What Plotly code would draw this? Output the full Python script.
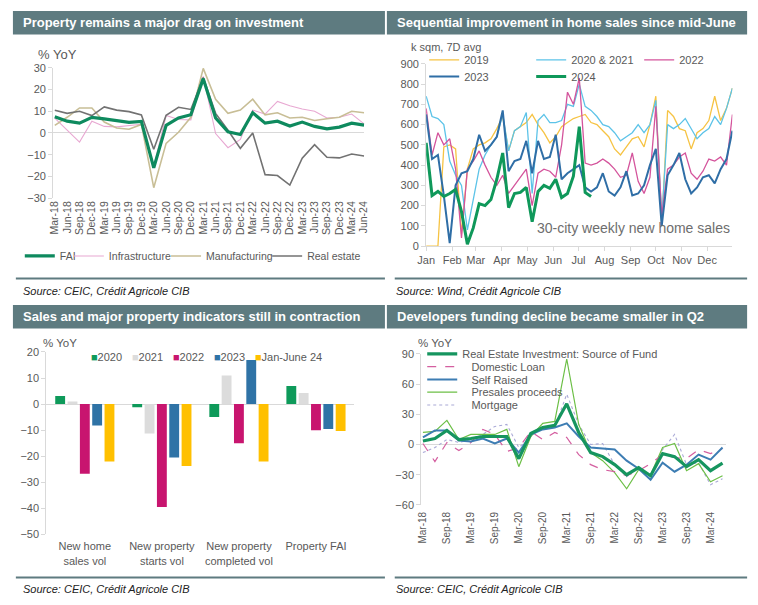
import plotly.graph_objects as go
import pandas as pd

W, H = 758, 605
FONT = "Liberation Sans, Arial, sans-serif"
GRAY = "#595959"
AXIS = "#D9D9D9"
HEAD = "#5E7B80"

# ---------------- Panel 1 data ----------------
quarters = ["Mar-18", "Jun-18", "Sep-18", "Dec-18", "Mar-19", "Jun-19", "Sep-19", "Dec-19",
            "Mar-20", "Jun-20", "Sep-20", "Dec-20", "Mar-21", "Jun-21", "Sep-21", "Dec-21",
            "Mar-22", "Jun-22", "Sep-22", "Dec-22", "Mar-23", "Jun-23", "Sep-23", "Dec-23",
            "Mar-24", "Jun-24"]
fai = [7.5, 5.4, 4.5, 7.2, 6.5, 5.6, 4.9, 5.3, -16.1, 3.5, 6.9, 8.4, 25.0, 6.9, 0.5, -0.7,
       9.3, 4.5, 5.4, 3.2, 5.0, 3.0, 1.9, 2.7, 4.5, 3.6]
infra = [6.8, 1.2, -4.2, 5.4, 3.0, 2.8, 3.5, 4.0, -15.5, 8.0, 6.2, 6.0, 26.0, -0.3, -6.8, -3.0,
         10.5, 8.7, 14.5, 12.5, 11.0, 10.0, 6.9, 7.2, 8.7, 4.2]
manuf = [3.5, 7.2, 11.5, 11.5, 5.0, 2.3, 1.7, 3.9, -25.2, -4.8, 0.3, 7.2, 29.7, 15.5, 9.0, 10.5,
         15.5, 8.3, 9.3, 6.9, 7.2, 5.7, 6.5, 7.2, 10.0, 9.3]
realest = [10.4, 9.0, 10.0, 8.0, 12.0, 10.5, 9.8, 8.3, -7.5, 8.1, 11.8, 10.8, 25.5, 9.0, 1.2, -7.1,
           0.0, -19.2, -19.6, -24.0, -11.6, -5.4, -11.2, -11.5, -9.7, -10.6]

# ---------------- Panel 2 data (weekly readings, k sqm 7D avg) ----------------
weeks = pd.date_range("2019-01-01", periods=53, freq="7D")
s2019 = [0, 0, 0, 490, 500, 480, 60, 380, 480, 500, 510, 530, 580, 640, 470, 570, 590, 610,
         650, 600, 560, 510, 540, 590, 610, 630, 640, 650, 610, 600, 570, 540, 480, 450, 490,
         530, 540, 490, 600, 740, 100, 670, 640, 580, 570, 480, 560, 580, 620, 740, 620, 680, 780]
s2020_21 = [740, 640, 630, 600, 420, 350, 300, 80, 230, 380, 450, 500, 540, 650, 470, 570, 590,
            660, 260, 620, 650, 610, 610, 620, 700, 690, 800, 690, 670, 640, 600, 590, 560, 520,
            540, 560, 600, 560, 600, 720, 130, 600, 580, 600, 630, 580, 530, 560, 580, 640, 600,
            680, 780]
s2022 = [680, 450, 560, 500, 530, 380, 40, 380, 420, 470, 400, 340, 300, 350, 260, 300, 340, 380,
         200, 360, 380, 370, 340, 500, 760, 700, 830, 410, 400, 410, 430, 410, 380, 340, 350, 460,
         320, 260, 340, 690, 150, 380, 400, 440, 460, 360, 330, 370, 430, 420, 440, 400, 650]
s2023 = [650, 430, 450, 250, 15, 300, 360, 370, 430, 550, 470, 500, 540, 670, 370, 420, 430, 520,
         360, 520, 430, 440, 550, 330, 360, 380, 400, 290, 270, 290, 360, 270, 250, 290, 370, 250,
         260, 300, 400, 480, 100, 350, 400, 460, 330, 260, 290, 340, 350, 310, 380, 430, 570]
s2024 = [510, 250, 270, 245, 260, 280, 170, 10, 90, 210, 200, 230, 330, 460, 190, 260, 265, 290,
         120, 270, 300, 285, 330, 240, 260, 345, 590, 265, 245]

# ---------------- Panel 3 data ----------------
indicators = ["New home<br>sales vol", "New property<br>starts vol",
              "New property<br>completed vol", "Property FAI"]
bar_years = ["2020", "2021", "2022", "2023", "Jan-June 24"]
bars_2020 = [3.1, -1.2, -5.0, 6.9]
bars_2021 = [1.0, -11.3, 11.0, 4.3]
bars_2022 = [-26.7, -39.5, -15.0, -10.0]
bars_2023 = [-8.2, -20.5, 16.9, -9.6]
bars_2024 = [-22.0, -23.8, -22.0, -10.3]

# ---------------- Panel 4 data ----------------
rei_fund = [3.5, 6, 14, 5, 6, 8, 8, 8, -14, 11, 17, 19, 40.5, 12, -8, -12, -20, -30, -23, -31,
            -9, -12, -22, -15, -26, -18.5]
domestic_loan = [1, -17, 2, -6, 2, 15, 10, -7, -3, 13, 5, 12, 7, -10, -20, -25, -27, -31, -26,
                 -19, -10, -13, -14, -5, -9, -4]
self_raised = [7, 14, 14, 4, 3, 6, 1, 6, -8, 10, 15, 17, 21, 8, -3, -4, -5, -16, -24, -35, -18,
               -27, -20, -10, -15, -3]
presales = [12, 13, 24, 5, 10, 10, 10, 15, -22, 8, 21, 23, 85, 20, -8, -16, -28, -44, -25, -30,
            -3, 1, -26, -19, -37, -31]
mortgage = [-8, -3, 5, 2, 5, 10, 18, 20, -3, 8, 18, 17, 50, 20, 0, 1, -20, -32, -22, -32, -5, 10,
            -20, -18, -40, -34]


def xp(px):
    return px / W


def yp(py):
    return 1 - py / H


fig = go.Figure()

# ---- Panel 1 traces (one legend per entry, laid out in a row) ----
p1 = [("Infrastructure", infra, "#E8A8D2", 1.1, "legend10"),
      ("Manufacturing", manuf, "#C8BE96", 1.6, "legend11"),
      ("Real estate", realest, "#727272", 1.6, "legend12"),
      ("FAI", fai, "#0E8A5E", 3.2, "legend")]
for name, vals, col, wd, lg in p1:
    fig.add_trace(go.Scatter(x=quarters, y=vals, name=name, mode="lines",
                             line=dict(color=col, width=wd), xaxis="x", yaxis="y", legend=lg))

# ---- Panel 2 traces ----
p2 = [("2019", s2019, "#F6C343", 1.3, "legend2", 62),
      ("2020 & 2021", s2020_21, "#5CC3E8", 1.3, "legend2", 63),
      ("2022", s2022, "#D4549C", 1.3, "legend2", 40),
      ("2023", s2023, "#2F6EA6", 2.0, "legend3", 62),
      ("2024", s2024, "#0F985A", 3.0, "legend3", 40)]
for name, vals, col, wd, lg, lw in p2:
    fig.add_trace(go.Scatter(x=weeks[:len(vals)], y=vals, name=name, mode="lines",
                             line=dict(color=col, width=wd), xaxis="x2", yaxis="y2",
                             legend=lg, legendwidth=lw))

# ---- Panel 3 traces ----
bar_cols = ["#0E9A5A", "#DCDCDC", "#C8156F", "#2F73A6", "#FFC000"]
bar_vals = [bars_2020, bars_2021, bars_2022, bars_2023, bars_2024]
bar_lw = [11, 11, 11, 11, 70]
for yr, vals, col in zip(bar_years, bar_vals, bar_cols):
    fig.add_trace(go.Bar(x=indicators, y=vals, name=yr, marker=dict(color=col, line=dict(width=0)),
                         xaxis="x3", yaxis="y3", showlegend=False, legendgroup=yr))
for yr, col, lw in zip(bar_years, bar_cols, bar_lw):
    fig.add_trace(go.Scatter(x=[None], y=[None], mode="lines", line=dict(width=0, color=col),
                             name=f'<span style="color:{col}">■</span>{yr}',
                             xaxis="x3", yaxis="y3", legend="legend4", legendgroup=yr,
                             legendwidth=lw))

# ---- Panel 4 traces ----
NB = "\u00a0\u00a0\u00a0"
p4 = [(NB + "Mortgage", mortgage, dict(color="#A9A9D6", width=1.1, dash="dot"), "legend9"),
      (NB + "Presales proceeds", presales, dict(color="#6CBF46", width=1.2), "legend8"),
      (NB + "Domestic Loan", domestic_loan, dict(color="#D45FA0", width=1.2, dash="dash"), "legend6"),
      (NB + "Self Raised", self_raised, dict(color="#3D7DB3", width=2.0), "legend7"),
      ("Real Estate Investment: Source of Fund", rei_fund, dict(color="#16955F", width=3.2), "legend5")]
for name, vals, ln, lg in p4:
    fig.add_trace(go.Scatter(x=quarters, y=vals, name=name, mode="lines", line=ln,
                             xaxis="x4", yaxis="y4", legend=lg))

# ---- Axes ----
tick_font = dict(family=FONT, size=11, color=GRAY)
common_y = dict(showgrid=False, showline=True, linecolor=AXIS, linewidth=1, ticks="outside",
                ticklen=4, tickcolor=AXIS, zeroline=True, zerolinecolor=AXIS, zerolinewidth=1,
                tickfont=tick_font, fixedrange=True)
common_x = dict(showgrid=False, zeroline=False, tickfont=tick_font, fixedrange=True)

fig.update_layout(
    xaxis=dict(common_x, domain=[xp(45), xp(362)], anchor="y", type="category",
               range=[-0.13, 25.02], tickangle=-90, showline=False, ticks="",
               tickmode="linear", tick0=0, dtick=1,
               tickfont=dict(family=FONT, size=10.5, color=GRAY)),
    yaxis=dict(common_y, domain=[yp(196), yp(63)], anchor="x", range=[-30, 30], dtick=10),
    xaxis2=dict(common_x, domain=[xp(425), xp(737)], anchor="y2", type="date",
                range=["2019-01-01", "2019-12-31"], dtick="M1", tickformat="%b",
                showline=True, linecolor=AXIS, ticks="outside", ticklen=4, tickcolor=AXIS),
    yaxis2=dict(common_y, domain=[yp(245), yp(59)], anchor="x2", range=[0, 900], dtick=100,
                zeroline=False),
    xaxis3=dict(common_x, domain=[xp(38), xp(352)], anchor="y3", type="category",
                showline=False, ticks="", ticklabelstandoff=4),
    yaxis3=dict(common_y, domain=[yp(539), yp(353)], anchor="x3", range=[-50, 20], dtick=10),
    xaxis4=dict(common_x, domain=[xp(420), xp(730)], anchor="y4", type="category",
                range=[-0.14, 25.25], tickangle=-90, tickmode="linear", tick0=0, dtick=2,
                showline=False, ticks="", ticklabelstandoff=4,
                tickfont=dict(family=FONT, size=10, color=GRAY)),
    yaxis4=dict(common_y, domain=[yp(509), yp(355)], anchor="x4", range=[-60, 90], dtick=30),
    barmode="group", bargap=0.2, bargroupgap=0.2,
)

# ---- Legends ----
def leg(x, y, size=11):
    return dict(x=xp(x), y=yp(y), xanchor="left", yanchor="middle", orientation="h",
                bgcolor="rgba(0,0,0,0)", borderwidth=0, itemwidth=30,
                font=dict(family=FONT, size=size, color=GRAY))

l4 = leg(58, 358)
l4["indentation"] = -15
fig.update_layout(
    legend=leg(11, 255, 10.5),
    legend10=leg(61, 255, 10.5),
    legend11=leg(160, 255, 10.5),
    legend12=leg(263, 255, 10.5),
    legend2=leg(423, 55),
    legend3=leg(423, 72),
    legend4=l4,
    legend5=leg(421, 355),
    legend6=leg(421, 368),
    legend7=leg(421, 381),
    legend8=leg(421, 394),
    legend9=leg(421, 407),
)

# ---- Decorations ----
shapes = []
annotations = []
panels = [
    (4, 383, 5, 29, "Property remains a major drag on investment", 7, 383, 278, "Source: CEIC, Crédit Agricole CIB", 12, 291),
    (385, 752, 5, 29, "Sequential improvement in home sales since mid-June", 393, 752, 278, "Source: Wind, Crédit Agricole CIB", 392, 291),
    (4, 383, 305, 329, "Sales and major property indicators still in contraction", 7, 383, 583, "Source: CEIC, Crédit Agricole CIB", 12, 595),
    (385, 752, 305, 329, "Developers funding decline became smaller in Q2", 393, 752, 583, "Source: CEIC, Crédit Agricole CIB", 392, 595),
]
for hx0, hx1, hy0, hy1, title, sx0, sx1, sy, src, srcx, srcy in panels:
    shapes.append(dict(type="rect", xref="paper", yref="paper", x0=xp(hx0), x1=xp(hx1),
                       y0=yp(hy1), y1=yp(hy0), fillcolor=HEAD, line=dict(width=0), layer="below"))
    annotations.append(dict(xref="paper", yref="paper", x=xp(hx0 + 8), y=yp((hy0 + hy1) / 2),
                            xanchor="left", yanchor="middle", showarrow=False,
                            text=f"<b>{title}</b>",
                            font=dict(family=FONT, size=13, color="white")))
    shapes.append(dict(type="line", xref="paper", yref="paper", x0=xp(sx0), x1=xp(sx1),
                       y0=yp(sy), y1=yp(sy), line=dict(color=HEAD, width=2)))
    annotations.append(dict(xref="paper", yref="paper", x=xp(srcx), y=yp(srcy),
                            xanchor="left", yanchor="middle", showarrow=False,
                            text=f"<i>{src}</i>",
                            font=dict(family=FONT, size=11, color="#222222")))

unit_labels = [("% YoY", 27, 49, 13), ("k sqm, 7D avg", 408, 42, 11),
               ("% YoY", 33, 344, 11.5), ("% YoY", 415, 344, 11.5)]
for txt, ux, uy, us in unit_labels:
    annotations.append(dict(xref="paper", yref="paper", x=xp(ux), y=yp(uy), xanchor="left",
                            yanchor="middle", showarrow=False, text=txt,
                            font=dict(family=FONT, size=us, color=GRAY)))
annotations.append(dict(xref="paper", yref="paper", x=xp(737), y=yp(227), xanchor="right",
                        yanchor="middle", showarrow=False, text="30-city weekly new home sales",
                        font=dict(family=FONT, size=14, color="#6E6E6E")))

fig.update_layout(
    width=W, height=H, margin=dict(l=0, r=0, t=0, b=0),
    paper_bgcolor="white", plot_bgcolor="white",
    shapes=shapes, annotations=annotations,
    font=dict(family=FONT, color=GRAY),
    hovermode="closest",
)

fig.write_html("out.html", config={"displayModeBar": False},
               post_script="document.body.style.margin='0';document.body.style.overflow='hidden';")
